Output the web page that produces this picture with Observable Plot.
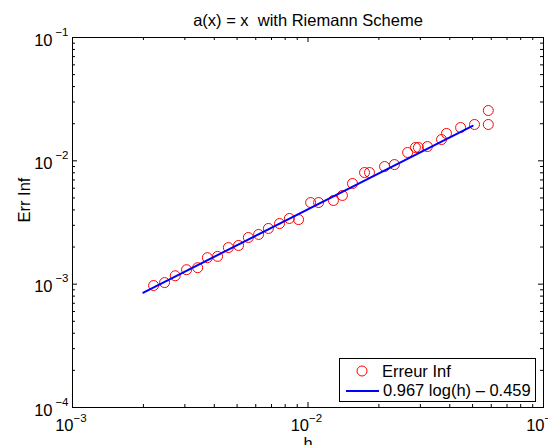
<!DOCTYPE html>
<html>
<head>
<meta charset="utf-8">
<script src="https://cdn.jsdelivr.net/npm/d3@7"></script>
<script src="https://cdn.jsdelivr.net/npm/@observablehq/plot@0.6"></script>
<style>
  html, body { margin: 0; padding: 0; background: white; }
  svg { display: block; }
</style>
</head>
<body>
<div id="chart"></div>
<script>
// ---- data ----
const titleText = "a(x) = x  with Riemann Scheme";
const xLabel = "h";
const yLabel = "Err Inf";
const legendPoints = "Erreur Inf";
const legendFit = "0.967 log(h) \u2013 0.459";

const hVals = [0.00221, 0.00246, 0.00273, 0.00305, 0.00340, 0.00374, 0.00413, 0.00459, 0.00507, 0.00558,
               0.00617, 0.00679, 0.00757, 0.00833, 0.00912, 0.01026, 0.01109, 0.01282, 0.0140, 0.01545,
               0.01738, 0.01824, 0.02114, 0.02328, 0.02649, 0.02858, 0.02943, 0.03213, 0.03690, 0.03873,
               0.04446, 0.05093, 0.05829, 0.05829];
const errVals = [0.000975, 0.00103, 0.00117, 0.00131, 0.00136, 0.00164, 0.00168, 0.00198, 0.00206, 0.00239,
                 0.00253, 0.00283, 0.00310, 0.00341, 0.00334, 0.00459, 0.00459, 0.00477, 0.00524, 0.00655,
                 0.00804, 0.00804, 0.00899, 0.00933, 0.01169, 0.01282, 0.01282, 0.01306, 0.01489, 0.01667,
                 0.01862, 0.01971, 0.02559, 0.01971];

const fitH = [0.002, 0.05];
const fitErr = [0.000853, 0.0192];

const xMajor = [1e-3, 1e-2, 1e-1];
const xMajorExp = ["\u22123", "\u22122", "\u22121"];
const yMajor = [1e-4, 1e-3, 1e-2, 1e-1];
const yMajorExp = ["\u22124", "\u22123", "\u22122", "\u22121"];
const minorMult = [2, 3, 4, 5, 6, 7, 8, 9];

// ---- derived tables ----
const points = hVals.map((h, i) => ({h, err: errVals[i]}));
const fit = fitH.map((h, i) => ({h, err: fitErr[i]}));
const xMinor = [1e-3, 1e-2].flatMap(d => minorMult.map(m => m * d));
const yMinor = [1e-4, 1e-3, 1e-2].flatMap(d => minorMult.map(m => m * d));
const xLab = xMajor.map((v, i) => ({v, e: xMajorExp[i]}));
const yLab = yMajor.map((v, i) => ({v, e: yMajorExp[i]}));

const W = 548, H = 445;
const mL = 72, mR = 5, mT = 37, mB = 38;
const fw = W - mL - mR, fh = H - mT - mB;
const FONT = "'Liberation Sans', Arial, Helvetica, sans-serif";
const FS = 16.5, EFS = 11.5;
const major = 5, minor = 3;

const chart = Plot.plot({
  width: W, height: H,
  marginLeft: mL, marginRight: mR, marginTop: mT, marginBottom: mB,
  style: {fontFamily: FONT, fontSize: FS + "px", background: "white", color: "black", overflow: "hidden"},
  x: {type: "log", domain: [1e-3, 1e-1], axis: null},
  y: {type: "log", domain: [1e-4, 1e-1], axis: null},
  marks: [
    // inward ticks, all four sides
    Plot.tickX(xMajor, {x: d => d, insetTop: fh - major, stroke: "black", strokeWidth: 1}),
    Plot.tickX(xMajor, {x: d => d, insetBottom: fh - major, stroke: "black", strokeWidth: 1}),
    Plot.tickX(xMinor, {x: d => d, insetTop: fh - minor, stroke: "black", strokeWidth: 1}),
    Plot.tickX(xMinor, {x: d => d, insetBottom: fh - minor, stroke: "black", strokeWidth: 1}),
    Plot.tickY(yMajor, {y: d => d, insetRight: fw - major, stroke: "black", strokeWidth: 1}),
    Plot.tickY(yMajor, {y: d => d, insetLeft: fw - major, stroke: "black", strokeWidth: 1}),
    Plot.tickY(yMinor, {y: d => d, insetRight: fw - minor, stroke: "black", strokeWidth: 1}),
    Plot.tickY(yMinor, {y: d => d, insetLeft: fw - minor, stroke: "black", strokeWidth: 1}),
    Plot.frame({stroke: "black", strokeWidth: 1}),
    // data
    Plot.dot(points, {x: "h", y: "err", r: 5, stroke: "#ff0000", strokeWidth: 1, fill: "none"}),
    Plot.line(fit, {x: "h", y: "err", stroke: "#0000ff", strokeWidth: 2}),
    // x tick labels
    Plot.text(xLab, {x: "v", text: () => "10", frameAnchor: "bottom", dy: 23, dx: 1, textAnchor: "end", lineAnchor: "bottom", fontSize: FS, fill: "black"}),
    Plot.text(xLab, {x: "v", text: "e", frameAnchor: "bottom", dy: 14, dx: 1, textAnchor: "start", lineAnchor: "bottom", fontSize: EFS, fill: "black"}),
    // y tick labels
    Plot.text(yLab, {y: "v", text: () => "10", frameAnchor: "left", dx: -20, dy: 8, textAnchor: "end", lineAnchor: "bottom", fontSize: FS, fill: "black"}),
    Plot.text(yLab, {y: "v", text: "e", frameAnchor: "left", dx: -4, dy: -2, textAnchor: "end", lineAnchor: "bottom", fontSize: EFS, fill: "black"}),
    // title and axis labels
    Plot.text([titleText], {text: d => d, frameAnchor: "top", dy: -12, lineAnchor: "bottom", fontSize: FS, fill: "black"}),
    Plot.text([xLabel], {text: d => d, frameAnchor: "bottom", dy: 41, lineAnchor: "bottom", fontSize: FS, fill: "black"}),
    Plot.text([yLabel], {text: d => d, frameAnchor: "left", dx: -43, rotate: -90, lineAnchor: "bottom", fontSize: FS, fill: "black"})
  ]
});

// legend box (MATLAB style, lower right)
const svg = d3.select(chart);
const lg = svg.append("g")
  .attr("font-family", FONT).attr("font-size", FS)
  .attr("text-anchor", "start").style("text-anchor", "start");
lg.append("rect").attr("x", 339.5).attr("y", 358.5).attr("width", 196).attr("height", 43)
  .attr("fill", "white").attr("stroke", "black").attr("stroke-width", 1);
lg.append("circle").attr("cx", 362).attr("cy", 371).attr("r", 5)
  .attr("fill", "none").attr("stroke", "#ff0000").attr("stroke-width", 1);
lg.append("text").attr("x", 382).attr("y", 377).attr("fill", "black")
  .attr("text-anchor", "start").text(legendPoints);
lg.append("line").attr("x1", 346).attr("x2", 379).attr("y1", 391).attr("y2", 391)
  .attr("stroke", "#0000ff").attr("stroke-width", 2);
lg.append("text").attr("x", 383).attr("y", 396).attr("fill", "black")
  .attr("text-anchor", "start").text(legendFit);

document.getElementById("chart").appendChild(chart);
</script>
</body>
</html>
